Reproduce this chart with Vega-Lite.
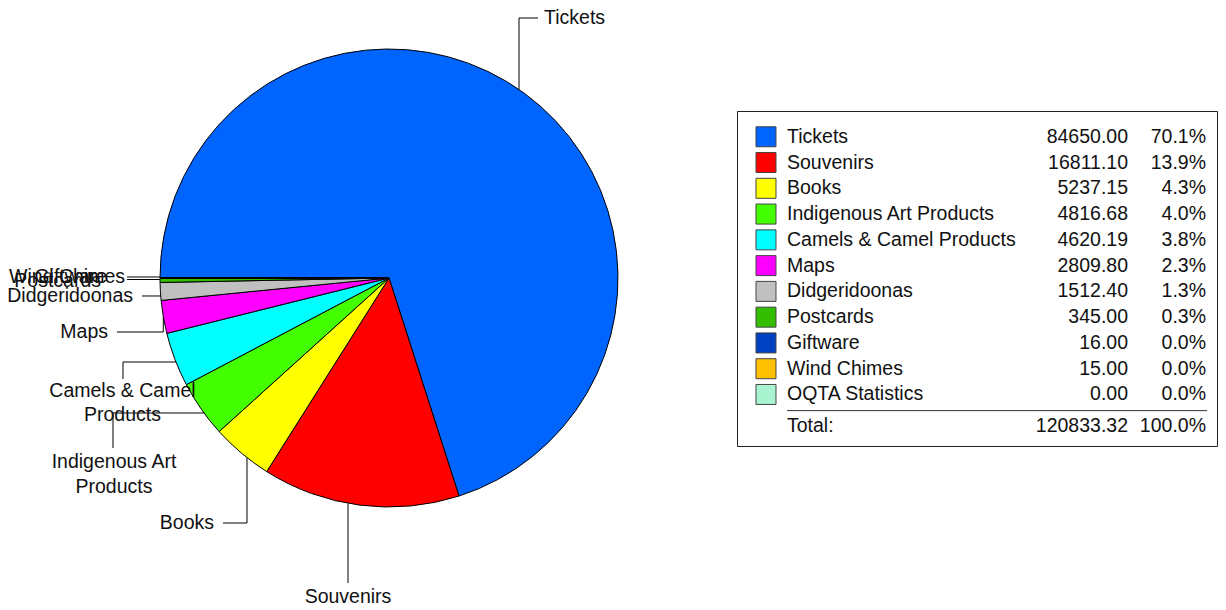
{
  "$schema": "https://vega.github.io/schema/vega-lite/v6.json",
  "padding": 0,
  "background": "white",
  "spacing": 6,
  "config": {
    "view": {"stroke": null},
    "axis": {"disable": true},
    "legend": {"disable": true},
    "text": {"font": "Liberation Sans", "fontSize": 19.5, "color": "#111"}
  },
  "datasets": {
    "sales": [
      {"name": "Tickets", "value": 84650.00},
      {"name": "Souvenirs", "value": 16811.10},
      {"name": "Books", "value": 5237.15},
      {"name": "Indigenous Art Products", "value": 4816.68},
      {"name": "Camels & Camel Products", "value": 4620.19},
      {"name": "Maps", "value": 2809.80},
      {"name": "Didgeridoonas", "value": 1512.40},
      {"name": "Postcards", "value": 345.00},
      {"name": "Giftware", "value": 16.00},
      {"name": "Wind Chimes", "value": 15.00},
      {"name": "OQTA Statistics", "value": 0.00}
    ],
    "table": [
      {"name": "Tickets", "amount": 84650.00, "share": 0.701},
      {"name": "Souvenirs", "amount": 16811.10, "share": 0.139},
      {"name": "Books", "amount": 5237.15, "share": 0.043},
      {"name": "Indigenous Art Products", "amount": 4816.68, "share": 0.040},
      {"name": "Camels & Camel Products", "amount": 4620.19, "share": 0.038},
      {"name": "Maps", "amount": 2809.80, "share": 0.023},
      {"name": "Didgeridoonas", "amount": 1512.40, "share": 0.013},
      {"name": "Postcards", "amount": 345.00, "share": 0.003},
      {"name": "Giftware", "amount": 16.00, "share": 0.0},
      {"name": "Wind Chimes", "amount": 15.00, "share": 0.0},
      {"name": "OQTA Statistics", "amount": 0.00, "share": 0.0},
      {"name": "Total:", "amount": 120833.32, "share": 1.0}
    ],
    "leaders": [
      {"x": 0.5677, "y": 0.823, "x2": 0.5677, "y2": 1.1354},
      {"x": 0.5677, "y": 1.1354, "x2": 0.6507, "y2": 1.1354},
      {"x": -0.179, "y": -0.9839, "x2": -0.179, "y2": -1.3319},
      {"x": -0.6201, "y": -0.7847, "x2": -0.6201, "y2": -1.0699},
      {"x": -0.6201, "y": -1.0699, "x2": -0.7249, "y2": -1.0699},
      {"x": -0.8079, "y": -0.5895, "x2": -1.2052, "y2": -0.5895},
      {"x": -1.2052, "y": -0.5895, "x2": -1.2052, "y2": -0.7424},
      {"x": -0.9301, "y": -0.3668, "x2": -1.1616, "y2": -0.3668},
      {"x": -1.1616, "y": -0.3668, "x2": -1.1616, "y2": -0.441},
      {"x": -0.9856, "y": -0.1703, "x2": -0.9856, "y2": -0.2358},
      {"x": -0.9856, "y": -0.2358, "x2": -1.1878, "y2": -0.2358},
      {"x": -0.997, "y": -0.0786, "x2": -1.0786, "y2": -0.0786},
      {"x": -1.0, "y": 0.0044, "x2": -1.1441, "y2": 0.0044},
      {"x": -1.0, "y": -0.0066, "x2": -1.1441, "y2": -0.0066}
    ],
    "labelsLeft": [
      {"label": "Tickets", "x": 0.6769, "y": 1.1354}
    ],
    "labelsRight": [
      {"label": "Books", "x": -0.7642, "y": -1.0699},
      {"label": "Maps", "x": -1.2271, "y": -0.2358},
      {"label": "Didgeridoonas", "x": -1.1179, "y": -0.0786},
      {"label": "Postcards", "x": -1.2576, "y": -0.0131},
      {"label": "Giftware", "x": -1.2314, "y": 0.0044},
      {"label": "Wind Chimes", "x": -1.1528, "y": 0.0044}
    ],
    "labelsCenter": [
      {"label": "Souvenirs", "x": -0.179, "y": -1.393},
      {"label": "Indigenous Art\nProducts", "x": -1.2009, "y": -0.8035},
      {"label": "Camels & Camel\nProducts", "x": -1.1638, "y": -0.4934}
    ]
  },
  "hconcat": [
    {
      "width": 730,
      "height": 610,
      "layer": [
        {
          "data": {"name": "sales"},
          "mark": {"type": "arc", "radius": 229, "stroke": "#000", "strokeWidth": 1},
          "encoding": {
            "theta": {"field": "value", "type": "quantitative", "stack": true, "scale": {"range": [4.71238898, 10.99557429]}},
            "order": {"field": "value", "sort": "descending"},
            "color": {
              "field": "name", "type": "nominal",
              "scale": {
                "domain": ["Tickets", "Souvenirs", "Books", "Indigenous Art Products", "Camels & Camel Products", "Maps", "Didgeridoonas", "Postcards", "Giftware", "Wind Chimes", "OQTA Statistics"],
                "range": ["#0064FF", "#FF0000", "#FFFF00", "#44FF00", "#00FFFF", "#FF00FF", "#C0C0C0", "#33BF00", "#0041C2", "#FFC000", "#A8F4D0"]
              }
            },
            "x": {"datum": 0, "type": "quantitative", "scale": {"domain": [-1.69869, 1.48908], "nice": false, "zero": false}},
            "y": {"datum": 0, "type": "quantitative", "scale": {"domain": [-1.44978, 1.21397], "nice": false, "zero": false}}
          }
        },
        {
          "data": {"name": "leaders"},
          "mark": {"type": "rule", "color": "#000", "strokeWidth": 1},
          "encoding": {
            "x": {"field": "x", "type": "quantitative"},
            "y": {"field": "y", "type": "quantitative"},
            "x2": {"field": "x2"},
            "y2": {"field": "y2"}
          }
        },
        {
          "data": {"name": "labelsLeft"},
          "mark": {"type": "text", "align": "left", "baseline": "middle"},
          "encoding": {
            "x": {"field": "x", "type": "quantitative"},
            "y": {"field": "y", "type": "quantitative"},
            "text": {"field": "label"}
          }
        },
        {
          "data": {"name": "labelsRight"},
          "mark": {"type": "text", "align": "right", "baseline": "middle"},
          "encoding": {
            "x": {"field": "x", "type": "quantitative"},
            "y": {"field": "y", "type": "quantitative"},
            "text": {"field": "label"}
          }
        },
        {
          "data": {"name": "labelsCenter"},
          "mark": {"type": "text", "align": "center", "baseline": "middle", "lineBreak": "\n", "lineHeight": 24.5},
          "encoding": {
            "x": {"field": "x", "type": "quantitative"},
            "y": {"field": "y", "type": "quantitative"},
            "text": {"field": "label"}
          }
        }
      ]
    },
    {
      "spacing": 0,
      "vconcat": [
        {
          "width": 480,
          "height": 110,
          "data": {"values": [{}]},
          "mark": {"type": "text", "text": ""},
          "encoding": {}
        },
        {
          "width": 480,
          "height": 335,
          "view": {"stroke": "#222", "strokeWidth": 1},
          "data": {"name": "table"},
          "layer": [
            {
              "transform": [{"filter": "datum.name !== 'Total:'"}],
              "mark": {"type": "square", "size": 400, "stroke": "#444", "strokeWidth": 1, "filled": true, "opacity": 1},
              "encoding": {
                "x": {"datum": 6.04, "type": "quantitative", "scale": {"domain": [0, 100], "nice": false, "zero": false}},
                "y": {
                  "field": "name", "type": "nominal",
                  "scale": {
                    "type": "point", "padding": 1.12,
                    "domain": ["Tickets", "Souvenirs", "Books", "Indigenous Art Products", "Camels & Camel Products", "Maps", "Didgeridoonas", "Postcards", "Giftware", "Wind Chimes", "OQTA Statistics", "Total:"]
                  }
                },
                "color": {
                  "field": "name", "type": "nominal",
                  "scale": {
                    "domain": ["Tickets", "Souvenirs", "Books", "Indigenous Art Products", "Camels & Camel Products", "Maps", "Didgeridoonas", "Postcards", "Giftware", "Wind Chimes", "OQTA Statistics"],
                    "range": ["#0064FF", "#FF0000", "#FFFF00", "#44FF00", "#00FFFF", "#FF00FF", "#C0C0C0", "#33BF00", "#0041C2", "#FFC000", "#A8F4D0"]
                  }
                }
              }
            },
            {
              "transform": [{"filter": "datum.name !== 'Total:'"}],
              "mark": {"type": "text", "align": "left", "baseline": "middle"},
              "encoding": {
                "x": {"datum": 10.42, "type": "quantitative"},
                "y": {"field": "name", "type": "nominal"},
                "text": {"field": "name"}
              }
            },
            {
              "transform": [{"filter": "datum.name !== 'Total:'"}],
              "mark": {"type": "text", "align": "right", "baseline": "middle"},
              "encoding": {
                "x": {"datum": 81.46, "type": "quantitative"},
                "y": {"field": "name", "type": "nominal"},
                "text": {"field": "amount", "type": "quantitative", "format": ".2f"}
              }
            },
            {
              "transform": [{"filter": "datum.name !== 'Total:'"}],
              "mark": {"type": "text", "align": "right", "baseline": "middle"},
              "encoding": {
                "x": {"datum": 97.71, "type": "quantitative"},
                "y": {"field": "name", "type": "nominal"},
                "text": {"field": "share", "type": "quantitative", "format": ".1%"}
              }
            },
            {
              "transform": [{"filter": "datum.name === 'Total:'"}],
              "mark": {"type": "rule", "color": "#333", "strokeWidth": 1, "yOffset": -9.6},
              "encoding": {
                "x": {"datum": 10.42, "type": "quantitative"},
                "x2": {"datum": 97.92},
                "y": {"field": "name", "type": "nominal"}
              }
            },
            {
              "transform": [{"filter": "datum.name === 'Total:'"}],
              "mark": {"type": "text", "align": "left", "baseline": "middle", "yOffset": 6},
              "encoding": {
                "x": {"datum": 10.42, "type": "quantitative"},
                "y": {"field": "name", "type": "nominal"},
                "text": {"field": "name"}
              }
            },
            {
              "transform": [{"filter": "datum.name === 'Total:'"}],
              "mark": {"type": "text", "align": "right", "baseline": "middle", "yOffset": 6},
              "encoding": {
                "x": {"datum": 81.46, "type": "quantitative"},
                "y": {"field": "name", "type": "nominal"},
                "text": {"field": "amount", "type": "quantitative", "format": ".2f"}
              }
            },
            {
              "transform": [{"filter": "datum.name === 'Total:'"}],
              "mark": {"type": "text", "align": "right", "baseline": "middle", "yOffset": 6},
              "encoding": {
                "x": {"datum": 97.71, "type": "quantitative"},
                "y": {"field": "name", "type": "nominal"},
                "text": {"field": "share", "type": "quantitative", "format": ".1%"}
              }
            }
          ]
        }
      ]
    }
  ]
}
